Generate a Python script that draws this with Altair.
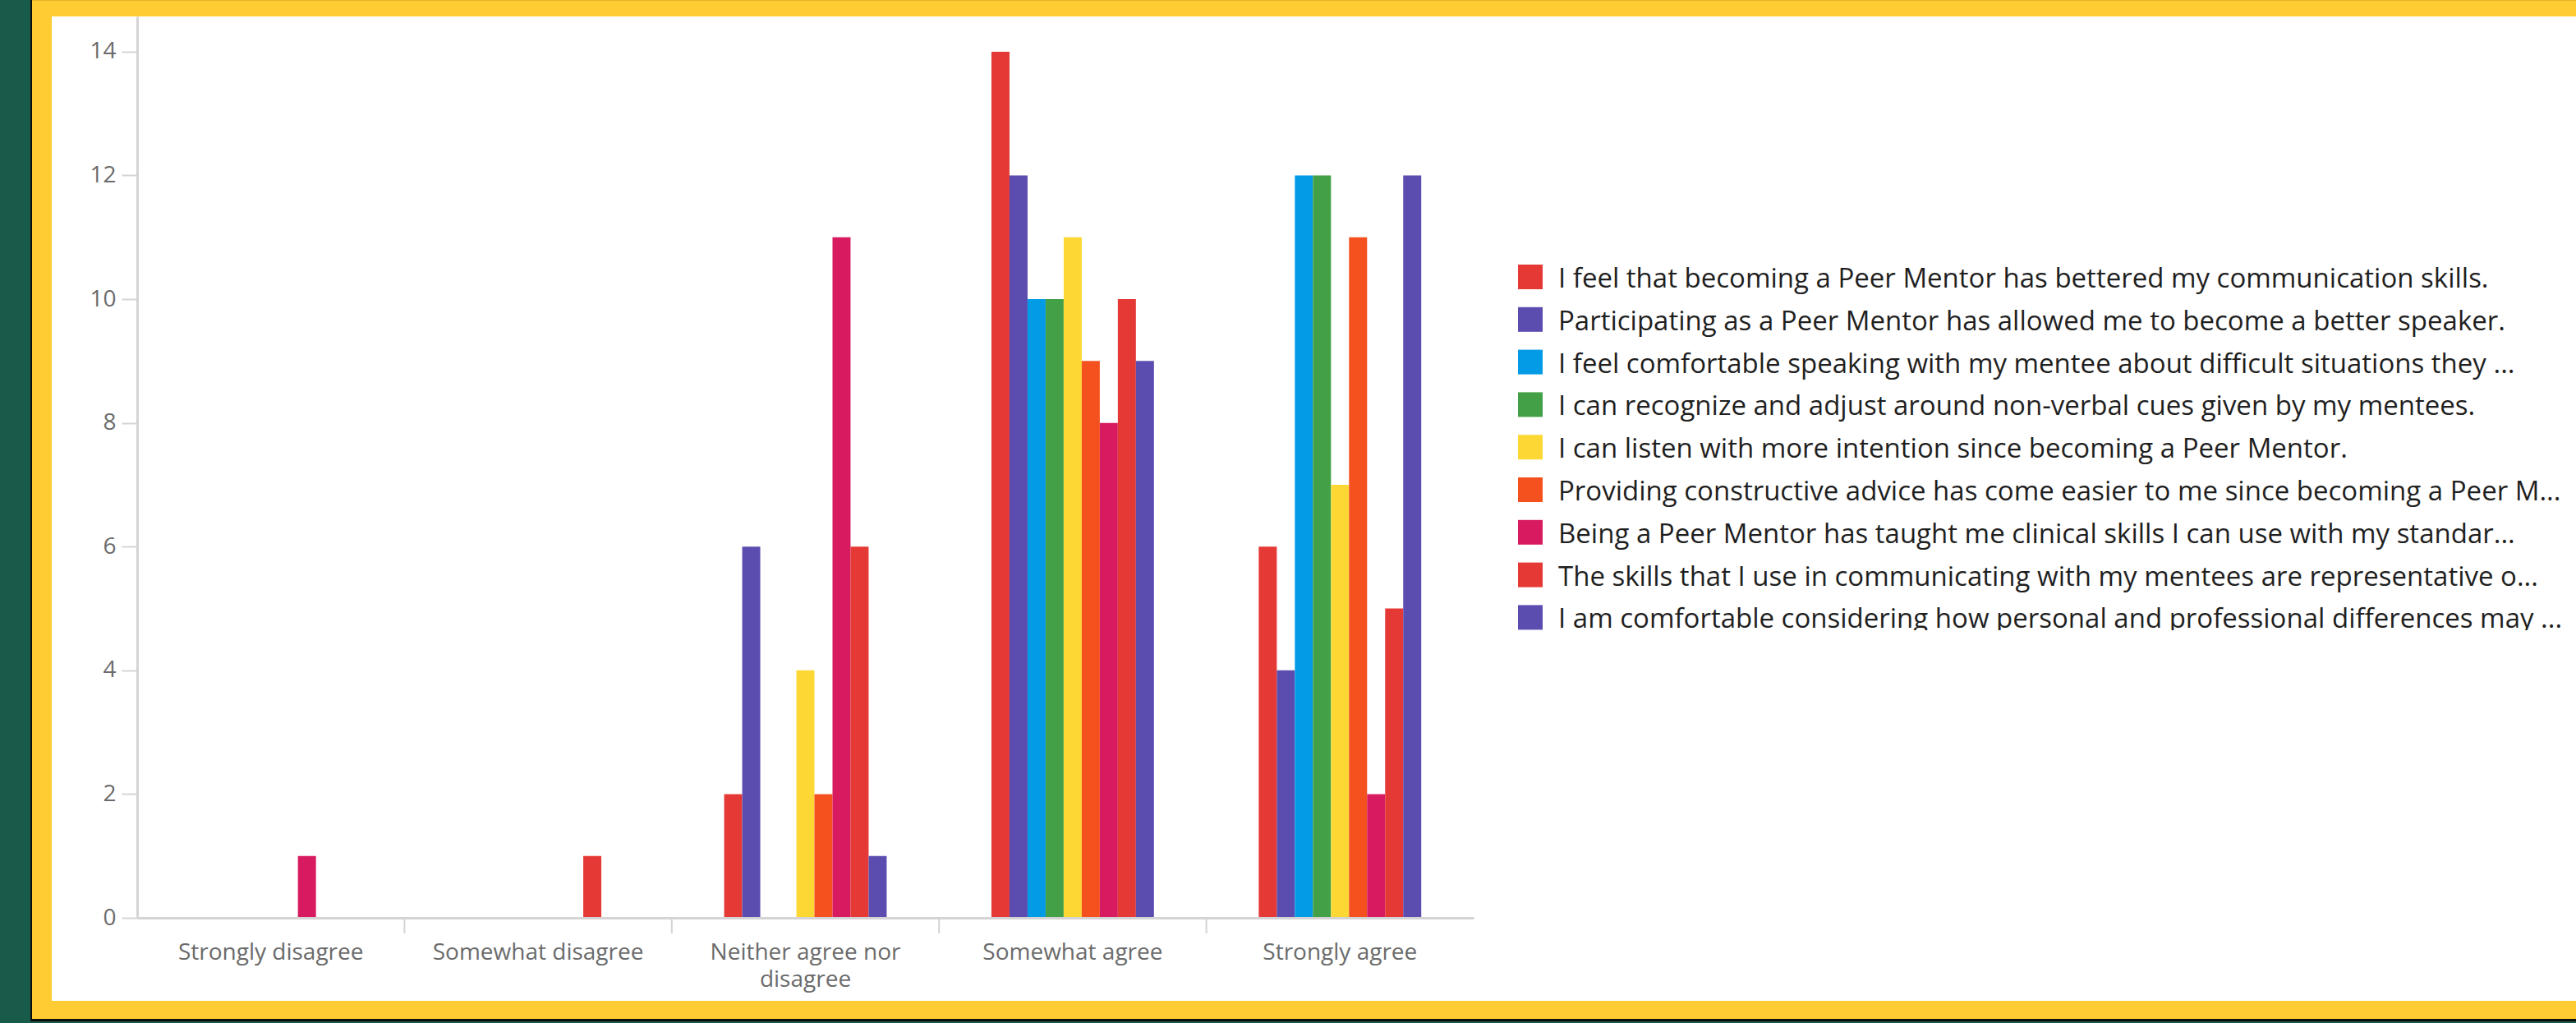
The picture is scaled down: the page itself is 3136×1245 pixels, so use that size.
import altair as alt
import pandas as pd

# Response scale (x axis categories)
categories = [
    "Strongly disagree",
    "Somewhat disagree",
    "Neither agree nor disagree",
    "Somewhat agree",
    "Strongly agree",
]

# Survey statements, as listed in the legend
statements = [
    "I feel that becoming a Peer Mentor has bettered my communication skills.",
    "Participating as a Peer Mentor has allowed me to become a better speaker.",
    "I feel comfortable speaking with my mentee about difficult situations they ...",
    "I can recognize and adjust around non-verbal cues given by my mentees.",
    "I can listen with more intention since becoming a Peer Mentor.",
    "Providing constructive advice has come easier to me since becoming a Peer M...",
    "Being a Peer Mentor has taught me clinical skills I can use with my standar...",
    "The skills that I use in communicating with my mentees are representative o...",
    "I am comfortable considering how personal and professional differences may ...",
]

series_colors = [
    "#E53935", "#5B4DB0", "#039BE5", "#43A047", "#FDD835",
    "#F4511E", "#D81B60", "#E53935", "#5B4DB0",
]

# Response counts per statement, in category order
counts = [
    [0, 0, 2, 14, 6],
    [0, 0, 6, 12, 4],
    [0, 0, 0, 10, 12],
    [0, 0, 0, 10, 12],
    [0, 0, 4, 11, 7],
    [0, 0, 2, 9, 11],
    [1, 0, 11, 8, 2],
    [0, 1, 6, 10, 5],
    [0, 0, 1, 9, 12],
]

y_ticks = [0, 2, 4, 6, 8, 10, 12, 14]

rows = []
for s, vals in zip(statements, counts):
    for c, v in zip(categories, vals):
        rows.append({"statement": s, "category": c, "count": v})
bars_df = pd.DataFrame(rows)
legend_df = pd.DataFrame({"statement": statements})
boundary_df = pd.DataFrame({"category": categories[:-1]})
one = pd.DataFrame({"k": [0]})

FONT = "Open Sans"
AXIS_GREY = "#d4d4d4"
LABEL_GREY = "#6b6b6b"

PLOT_W, PLOT_H = 1627, 1097
PAD = {"left": 167, "top": 20, "right": 1342, "bottom": 128}

color_scale = alt.Scale(domain=statements, range=series_colors)


def block(x1, x2, y1, y2, fill):
    """Plain filled panel used for the page frame (pixel offsets from the plot origin)."""
    return alt.Chart(one).mark_rect(color=fill, strokeWidth=0).encode(
        x=alt.value(x1), x2=alt.value(x2), y=alt.value(y1), y2=alt.value(y2)
    )


# Page frame: dark green margin, thin black rule, white card
frame = [
    block(-167, -130, -20, 1225, "#185B4A"),
    block(-130, -128, -20, 1225, "#0d0d0d"),
    block(-130, 2969, 1220, 1223, "#0d0d0d"),
    block(-130, 2969, 1223, 1225, "#185B4A"),
    block(-128, 2969, -20, -19, "#E2B22C"),
    block(-104, 2969, 0, 1198, "#FFFFFF"),
]

bars = alt.Chart(bars_df).mark_bar(strokeWidth=0).encode(
    x=alt.X(
        "category:N",
        sort=categories,
        scale=alt.Scale(paddingInner=0.392, paddingOuter=0.196),
        axis=alt.Axis(
            title=None,
            ticks=False,
            labelAngle=0,
            labelFont=FONT,
            labelFontSize=28,
            labelColor=LABEL_GREY,
            labelPadding=28,
            labelLineHeight=33,
            labelLimit=0,
            labelExpr="datum.label == 'Neither agree nor disagree' ? ['Neither agree nor', 'disagree'] : datum.label",
            domainColor=AXIS_GREY,
            domainWidth=3,
            zindex=1,
        ),
    ),
    xOffset=alt.XOffset(
        "statement:N", sort=statements, scale=alt.Scale(paddingInner=0, paddingOuter=0)
    ),
    y=alt.Y(
        "count:Q",
        scale=alt.Scale(domain=[0, 14.57], nice=False, zero=True),
        axis=alt.Axis(
            title=None,
            values=y_ticks,
            grid=False,
            tickSize=19,
            tickWidth=2,
            tickColor=AXIS_GREY,
            labelPadding=7,
            labelFont=FONT,
            labelFontSize=28,
            labelColor=LABEL_GREY,
            domainColor=AXIS_GREY,
            domainWidth=3,
            zindex=1,
        ),
    ),
    color=alt.Color("statement:N", scale=color_scale, legend=None),
)

# Short separators between response groups, below the baseline
separators = alt.Chart(boundary_df).mark_rule(
    color=AXIS_GREY, strokeWidth=2, xOffset=63.8
).encode(
    x=alt.X("category:N", sort=categories, bandPosition=1),
    y=alt.value(PLOT_H),
    y2=alt.value(PLOT_H + 19),
)

legend_y = alt.Y(
    "statement:N",
    sort=statements,
    scale=alt.Scale(type="point", range=[317, 731.4], padding=0),
    axis=None,
)

legend_swatches = alt.Chart(legend_df).mark_square(size=900, opacity=1).encode(
    x=alt.value(1696),
    y=legend_y,
    color=alt.Color("statement:N", scale=color_scale, legend=None),
)

legend_labels = alt.Chart(legend_df).mark_text(
    align="left", baseline="middle", dy=3, font=FONT, fontSize=33, color="#1f1f1f"
).encode(
    x=alt.value(1730),
    y=legend_y,
    text="statement:N",
)

legend = alt.layer(legend_swatches, legend_labels)

# The legend box cuts off below its last row
legend_clip = block(1673, 2969, 747, 820, "#FFFFFF")

chart = (
    alt.layer(*frame, bars, separators, legend, legend_clip)
    .resolve_scale(y="independent")
    .properties(
        width=PLOT_W,
        height=PLOT_H,
        autosize=alt.AutoSizeParams(type="none"),
        padding=PAD,
    )
    .configure(background="#FFCC33")
    .configure_view(stroke=None, strokeWidth=0)
)

chart.save("out.html", embed_options={"renderer": "svg", "actions": False})
